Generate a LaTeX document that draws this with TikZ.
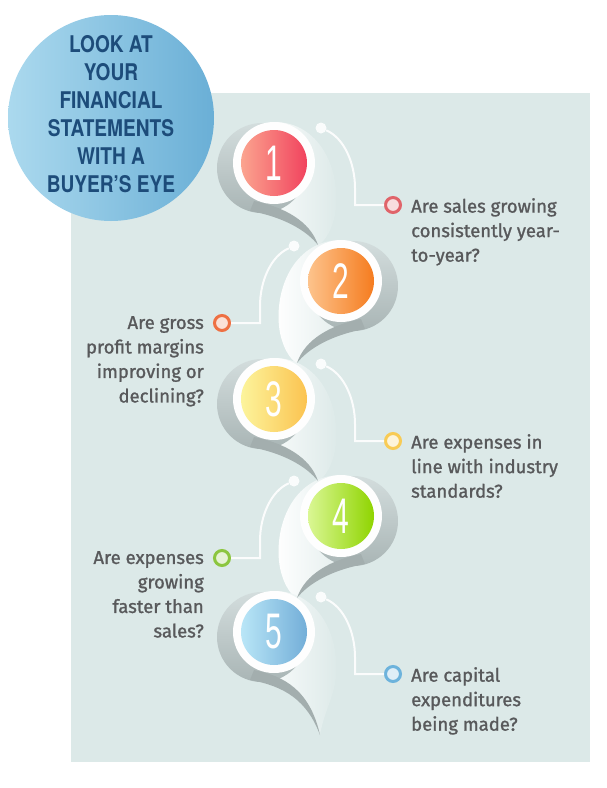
\documentclass[tikz,border=0pt]{standalone}
\usepackage{fontspec}
\usetikzlibrary{positioning}
\newfontfamily\titlefont{TeX Gyre Heros}[FakeStretch=0.83]
\newfontfamily\numfont{Liberation Sans}[FakeStretch=0.6]
\newfontfamily\qfont{Fira Sans}[FakeBold=1.2]
\definecolor{panel}{HTML}{DCE9E8}
\definecolor{navy}{HTML}{1D4C7A}
\definecolor{qgrey}{HTML}{58595B}
\definecolor{titleL}{HTML}{ABD9EE}
\definecolor{titleR}{HTML}{6AAFD6}
\definecolor{shadeL}{HTML}{D3DDDD}
\definecolor{shadeD}{HTML}{A9B5B5}
\definecolor{tailgrey}{HTML}{A3AEAE}
\definecolor{d1l}{HTML}{FBA48F}\definecolor{d1r}{HTML}{F1435E}\definecolor{mk1}{HTML}{E0646A}
\definecolor{d2l}{HTML}{FDC38C}\definecolor{d2r}{HTML}{F57C1F}\definecolor{mk2}{HTML}{EE7043}
\definecolor{d3l}{HTML}{FCF49C}\definecolor{d3r}{HTML}{FBC350}\definecolor{mk3}{HTML}{F8CB55}
\definecolor{d4l}{HTML}{DAF794}\definecolor{d4r}{HTML}{8FD400}\definecolor{mk4}{HTML}{8CC63F}
\definecolor{d5l}{HTML}{B9E6F7}\definecolor{d5r}{HTML}{73AED8}\definecolor{mk5}{HTML}{6DB3DC}
\tikzset{
  qtext/.style={font=\qfont\fontsize{18.5}{24.5}\selectfont, text=qgrey, inner sep=0pt},
  titletext/.style={font=\titlefont\bfseries\fontsize{23}{28}\selectfont, text=navy, align=center},
  numtext/.style={font=\numfont\fontsize{50}{50}\selectfont, text=white, inner sep=0pt},
  qdot/.style={circle, fill=white!85!panel, minimum size=11pt, inner sep=0pt},
  qmark/.style={circle, line width=3pt, minimum size=15pt, inner sep=0pt},
  link/.style={white!88!panel, line width=2pt}
}
\begin{document}
\begin{tikzpicture}[x=1pt,y=-1pt]
  \useasboundingbox (0,0) rectangle (606,788);
  \fill[panel] (71,93) rectangle (590,762);
  % light ribbons
  \foreach \cx/\cy/\s/\tx/\ty in {274/163/1/44/82, 341/281/-1/44/82, 274/399/1/44/82, 341/516/-1/44/82, 274/632/1/46/103}
  {
    \begin{scope}[shift={(\cx,\cy)}, xscale=\s]
      \shade[left color=white, right color=panel] (0,-41) .. controls (45,-41) and (66,5) .. (62,45) .. controls (60,65) and (50,80) .. (\tx,\ty) .. controls (35,58) and (10,44) .. (-20,40) -- cycle;
    \end{scope}
  }
  % shadows and tails
  \foreach \cx/\cy/\s/\tx/\ty in {274/163/1/44/82, 341/281/-1/44/82, 274/399/1/44/82, 341/516/-1/44/82, 274/632/1/46/103}
  {
    \begin{scope}[shift={(\cx,\cy)}, xscale=\s]
      \shade[top color=shadeL, bottom color=shadeD] (-12,5) circle[radius=45pt];
      \fill[tailgrey] (-20,38) .. controls (10,44) and (36,58) .. (\tx,\ty) .. controls (33,68) and (10,54) .. (-24,48) -- cycle;
    \end{scope}
  }
  % numbered discs and their links
  \foreach \i/\cx/\cy/\s in {1/274/163/1, 2/341/281/-1, 3/274/399/1, 4/341/516/-1, 5/274/632/1}
  {
    \fill[white!96!panel] (\cx,\cy) circle[radius=41pt];
    \shade[left color=d\i l, right color=d\i r] (\cx,\cy) circle[radius=33pt];
    \node[numtext] (n\i) at (\cx,\cy) {\i};
    \begin{scope}[shift={(\cx,\cy)}, xscale=\s]
      \node[qdot] (dot\i) at (47,-35) {};
      \node[qmark, draw=mk\i, fill=mk\i!22!white] (m\i) at (119,42) {};
      \draw[link] (dot\i) .. controls (70,-25) and (81,0) .. (81,25) |- (m\i);
    \end{scope}
  }
  % title
  \shade[left color=titleL, right color=titleR] (111,118) circle[radius=103pt];
  \node[titletext] (title) at (111,114) {LOOK AT\\YOUR\\FINANCIAL\\STATEMENTS\\WITH A\\BUYER’S EYE};
  % questions
  \node[qtext, anchor=north west, align=left] (q1) at ([xshift=9pt, yshift=7pt]m1.east) {Are sales growing\\consistently year-\\to-year?};
  \node[qtext, anchor=north east, align=right] (q2) at ([xshift=-9pt, yshift=7pt]m2.west) {Are gross\\profit margins\\improving or\\declining?};
  \node[qtext, anchor=north west, align=left] (q3) at ([xshift=9pt, yshift=7pt]m3.east) {Are expenses in\\line with industry\\standards?};
  \node[qtext, anchor=north east, align=right] (q4) at ([xshift=-9pt, yshift=7pt]m4.west) {Are expenses\\growing\\faster than\\sales?};
  \node[qtext, anchor=north west, align=left] (q5) at ([xshift=9pt, yshift=7pt]m5.east) {Are capital\\expenditures\\being made?};
\end{tikzpicture}
\end{document}
